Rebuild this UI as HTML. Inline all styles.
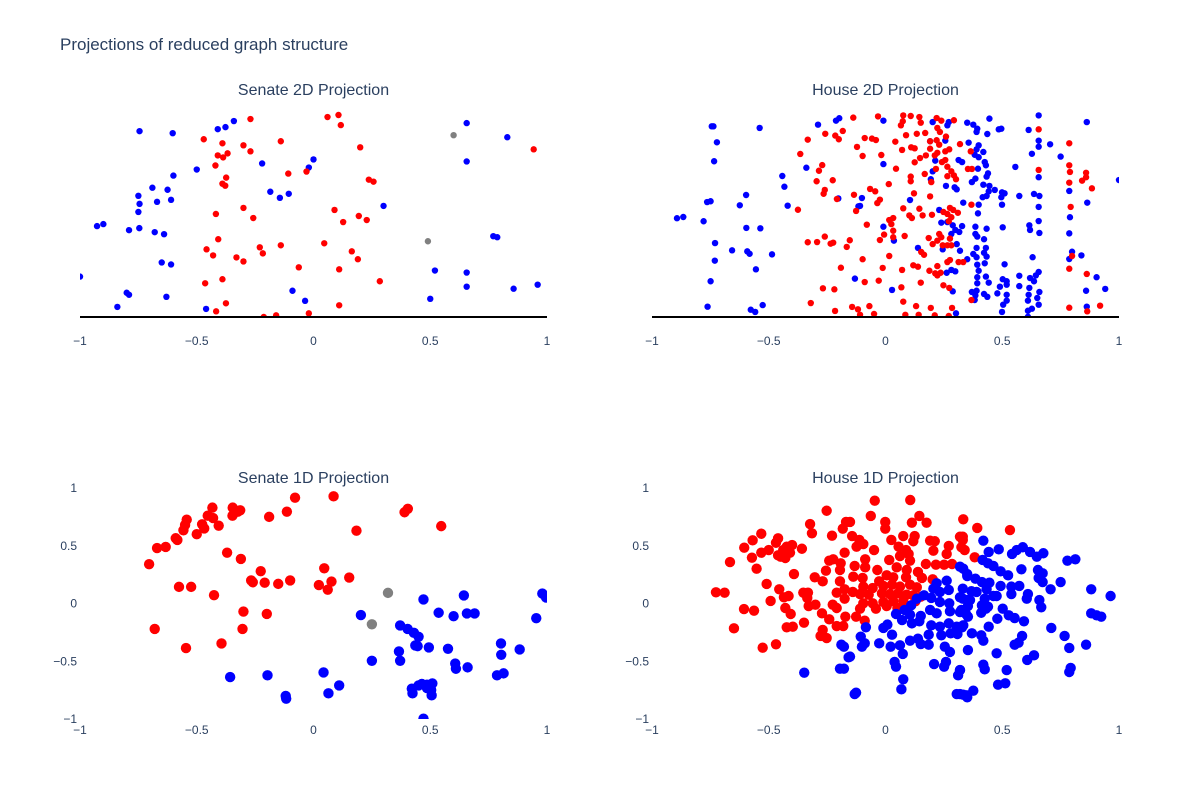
<!DOCTYPE html>
<html><head><meta charset="utf-8"><style>
body{margin:0;background:#fff;}
svg{display:block;font-family:"Liberation Sans",Arial,sans-serif;}
</style></head><body>
<svg id="chart" width="1200" height="800">
<rect width="1200" height="800" fill="#fff"/>
<text x="60" y="50" font-size="17" fill="#2a3f5f">Projections of reduced graph structure</text>
</svg>
<script>
// ---------- data ----------
const xTicks = [-1, -0.5, 0, 0.5, 1];
const yTicks1D = [1, 0.5, 0, -0.5, -1];
const panelTitles = ["Senate 2D Projection", "House 2D Projection", "Senate 1D Projection", "House 1D Projection"];

const s2dBlue = [[-0.745,0.92],[-0.603,0.91],[-0.41,0.93],[-0.377,0.94],[-0.341,0.97],[-0.22,0.76],[0.0,0.78],[-0.02,0.74],[-0.5,0.73],[-0.6,0.7],[-0.69,0.64],[-0.625,0.63],[-0.75,0.6],[-0.67,0.57],[-0.745,0.56],[-0.61,0.58],[-0.75,0.52],[-0.185,0.62],[-0.144,0.59],[-0.106,0.61],[0.3,0.55],[-0.927,0.45],[-0.9,0.46],[-0.79,0.43],[-0.746,0.44],[-0.68,0.42],[-0.64,0.41],[-0.65,0.27],[-0.61,0.26],[-1.0,0.2],[-0.8,0.12],[-0.79,0.11],[-0.63,0.1],[-0.84,0.05],[-0.46,0.04],[-0.09,0.13],[-0.036,0.08],[0.656,0.96],[0.83,0.89],[0.656,0.77],[0.77,0.4],[0.787,0.395],[0.52,0.23],[0.656,0.22],[0.656,0.15],[0.857,0.14],[0.96,0.16],[0.5,0.09]];
const s2dGray = [[0.6,0.9],[0.49,0.375]];
const s2dRed = [[-0.27,0.98],[0.06,0.99],[0.107,1.0],[0.117,0.95],[-0.47,0.88],[-0.39,0.86],[-0.14,0.87],[-0.3,0.85],[-0.27,0.82],[-0.41,0.8],[-0.387,0.79],[-0.368,0.81],[-0.42,0.75],[0.2,0.84],[0.943,0.83],[-0.108,0.71],[-0.03,0.72],[-0.374,0.69],[-0.39,0.66],[-0.378,0.65],[0.237,0.68],[0.257,0.67],[-0.418,0.51],[-0.3,0.54],[-0.258,0.49],[0.09,0.53],[0.127,0.47],[0.194,0.5],[0.228,0.48],[-0.408,0.385],[-0.458,0.335],[-0.43,0.305],[-0.23,0.345],[-0.217,0.315],[-0.14,0.355],[-0.33,0.295],[-0.3,0.275],[0.046,0.365],[0.164,0.325],[0.19,0.286],[-0.063,0.246],[0.11,0.236],[0.284,0.177],[-0.39,0.187],[-0.464,0.167],[-0.375,0.068],[-0.417,0.028],[0.11,0.058],[-0.213,0.0],[-0.16,0.008],[-0.02,0.018]];

const h2dBlue = [[-0.744,0.944],[-0.737,0.944],[-0.722,0.865],[-0.734,0.771],[-0.539,0.936],[-0.289,0.952],[-0.212,0.972],[-0.198,0.984],[-0.339,0.739],[-0.442,0.698],[-0.433,0.645],[-0.419,0.551],[-0.597,0.604],[-0.624,0.553],[-0.764,0.569],[-0.749,0.573],[-0.893,0.489],[-0.866,0.495],[-0.779,0.474],[-0.596,0.441],[-0.536,0.439],[-0.73,0.366],[-0.657,0.33],[-0.592,0.325],[-0.582,0.313],[-0.486,0.31],[-0.731,0.279],[-0.555,0.236],[-0.749,0.177],[-0.762,0.051],[-0.577,0.036],[-0.558,0.025],[-0.526,0.059],[-0.202,0.587],[-0.131,0.19],[-0.116,0.548],
[-0.009,0.972],[0.202,0.965],[0.271,0.965],[0.265,0.949],[0.35,0.962],[0.376,0.952],[0.393,0.932],[0.39,0.916],[0.445,0.982],[0.436,0.906],[0.191,0.87],[0.256,0.873],[0.356,0.863],[0.399,0.85],[0.39,0.83],[0.419,0.817],[0.382,0.803],[0.399,0.791],[0.313,0.777],[0.328,0.767],[0.425,0.767],[0.43,0.751],[-0.009,0.757],[0.213,0.774],[0.202,0.721],[0.396,0.734],[0.439,0.711],[0.433,0.695],[0.385,0.685],[0.37,0.668],[0.194,0.682],[0.259,0.649],[0.296,0.642],[0.305,0.632],[0.419,0.655],[0.445,0.649],[0.468,0.629],[0.442,0.622],[0.433,0.599],[0.416,0.593],[0.333,0.566],[0.399,0.556],[0.105,0.579],[-0.101,0.589],[-0.109,0.55],[0.23,0.53],[0.396,0.513],[0.239,0.467],[0.265,0.47],[0.288,0.454],[0.328,0.45],[-0.009,0.447],[0.385,0.447],[0.433,0.437],[0.385,0.411],[0.282,0.411],[0.299,0.431],[0.316,0.421],[0.393,0.398],[0.036,0.378],[0.422,0.385],[0.305,0.361],[0.139,0.342],[0.245,0.335],[0.39,0.342],[0.43,0.342],[0.319,0.328],[0.422,0.318],[0.376,0.312],[0.35,0.286],[0.39,0.296],[0.433,0.299],[0.425,0.266],[0.393,0.259],[0.282,0.233],[0.299,0.226],[0.262,0.219],[0.399,0.229],[0.393,0.197],[0.43,0.2],[0.442,0.17],[0.393,0.167],[0.37,0.124],[0.39,0.13],[0.385,0.107],[0.422,0.114],[0.436,0.1],[0.382,0.084],[0.028,0.134],[0.288,0.127],[0.479,0.117],[0.302,0.018],[0.485,0.929],
[0.656,0.998],[0.496,0.932],[0.613,0.926],[0.656,0.873],[0.656,0.843],[0.705,0.855],[0.627,0.808],[0.75,0.794],[0.862,0.965],[0.556,0.743],[0.656,0.692],[1.0,0.678],[0.499,0.617],[0.51,0.612],[0.496,0.593],[0.499,0.556],[0.573,0.599],[0.636,0.609],[0.659,0.599],[0.656,0.545],[0.787,0.624],[0.864,0.566],[0.656,0.475],[0.616,0.454],[0.619,0.431],[0.659,0.416],[0.79,0.494],[0.787,0.414],[0.502,0.444],[0.799,0.323],[0.787,0.287],[0.839,0.305],[0.63,0.296],[0.51,0.261],[0.502,0.187],[0.519,0.177],[0.519,0.16],[0.49,0.15],[0.573,0.204],[0.573,0.153],[0.619,0.193],[0.636,0.177],[0.656,0.223],[0.644,0.206],[0.659,0.124],[0.616,0.144],[0.613,0.11],[0.61,0.081],[0.65,0.094],[0.656,0.061],[0.519,0.11],[0.519,0.081],[0.504,0.061],[0.499,0.025],[0.627,0.041],[0.61,0.031],[0.61,0.001],[0.859,0.13],[0.904,0.197],[0.941,0.139],[0.862,0.051]];
const h2dRed = [[-0.138,0.987],[-0.258,0.907],[-0.183,0.921],[-0.215,0.898],[-0.2,0.88],[-0.333,0.878],[-0.122,0.842],[-0.365,0.807],[-0.271,0.752],[-0.285,0.724],[-0.295,0.672],[-0.226,0.677],[-0.26,0.629],[-0.265,0.61],[-0.208,0.584],[-0.135,0.605],[-0.126,0.525],[-0.375,0.531],[-0.333,0.37],[-0.293,0.371],[-0.26,0.398],[-0.235,0.363],[-0.224,0.368],[-0.153,0.38],[-0.166,0.347],[-0.191,0.244],[-0.268,0.142],[-0.219,0.137],[-0.32,0.069],[-0.216,0.03],[-0.143,0.05],[-0.118,0.038],
[-0.032,0.993],[0.076,0.998],[0.108,0.995],[0.145,0.99],[0.074,0.969],[0.066,0.949],[0.151,0.962],[0.219,0.985],[0.239,0.972],[0.293,0.974],[0.222,0.936],[0.233,0.916],[0.17,0.911],[0.134,0.907],[0.088,0.9],[0.259,0.893],[-0.089,0.886],[-0.058,0.883],[-0.041,0.876],[0.042,0.868],[0.219,0.875],[0.191,0.87],[0.23,0.853],[0.319,0.856],[0.11,0.84],[0.125,0.835],[0.071,0.827],[0.191,0.833],[0.273,0.83],[0.256,0.82],[0.222,0.813],[-0.018,0.802],[-0.098,0.797],[0.173,0.8],[0.211,0.8],[0.365,0.82],[0.148,0.787],[0.256,0.777],[0.242,0.767],[0.125,0.766],[0.37,0.733],[0.353,0.733],[0.265,0.744],[0.216,0.733],[0.045,0.734],[0.282,0.721],[0.293,0.701],[0.168,0.708],[0.265,0.697],[0.108,0.695],[0.108,0.672],[0.302,0.682],[0.196,0.668],[0.014,0.658],[-0.066,0.634],[-0.044,0.622],[0.122,0.612],[0.191,0.597],[-0.024,0.581],[-0.035,0.564],[0.368,0.556],[0.076,0.538],[0.145,0.536],[0.276,0.54],[0.29,0.53],[0.248,0.52],[0.265,0.51],[0.31,0.516],[0.102,0.503],[0.159,0.503],[0.199,0.506],[0.113,0.49],[0.033,0.49],[0.016,0.48],[0.282,0.494],[0.271,0.474],[0.025,0.46],[-0.08,0.457],[0.033,0.427],[-0.006,0.408],[0.082,0.401],[0.23,0.411],[0.239,0.395],[0.185,0.391],[-0.024,0.381],[0.033,0.395],[0.276,0.388],[0.222,0.378],[0.202,0.361],[0.245,0.355],[0.265,0.355],[0.282,0.355],[0.153,0.322],[0.165,0.308],[0.016,0.302],[-0.098,0.286],[0.276,0.282],[0.265,0.272],[0.313,0.272],[0.333,0.272],[0.222,0.252],[0.119,0.256],[0.139,0.249],[-0.012,0.243],[0.071,0.233],[0.188,0.229],[0.213,0.216],[0.236,0.219],[0.222,0.206],[-0.089,0.173],[-0.029,0.18],[0.151,0.17],[0.248,0.157],[0.068,0.147],[0.273,0.144],[0.076,0.076],[0.368,0.084],[-0.069,0.054],[0.131,0.054],[0.194,0.045],[0.285,0.045],[-0.049,0.015],[0.085,0.011],[0.142,0.011],[0.211,0.008],[0.271,0.005],[-0.109,0.011],
[0.656,0.929],[0.787,0.86],[0.656,0.728],[0.787,0.751],[0.79,0.718],[0.787,0.665],[0.859,0.714],[0.859,0.692],[0.842,0.675],[0.884,0.637],[0.793,0.545],[0.799,0.302],[0.787,0.239],[0.862,0.213],[0.787,0.046],[0.864,0.028],[0.919,0.056]];

const s1dRed = [[-0.704,0.34],[-0.67,0.48],[-0.633,0.49],[-0.59,0.565],[-0.583,0.55],[-0.557,0.634],[-0.55,0.68],[-0.543,0.726],[-0.5,0.6],[-0.477,0.686],[-0.468,0.65],[-0.453,0.76],[-0.433,0.83],[-0.43,0.74],[-0.406,0.674],[-0.347,0.76],[-0.346,0.83],[-0.314,0.807],[-0.324,0.795],[-0.19,0.75],[-0.114,0.795],[-0.079,0.916],[0.086,0.928],[0.39,0.79],[0.404,0.82],[0.547,0.67],[0.184,0.63],[-0.37,0.44],[-0.311,0.386],[-0.226,0.28],[-0.267,0.2],[-0.26,0.184],[-0.209,0.18],[-0.151,0.17],[-0.1,0.2],[0.046,0.305],[0.023,0.16],[0.077,0.19],[0.061,0.12],[0.153,0.225],[-0.576,0.144],[-0.524,0.144],[-0.426,0.072],[-0.3,-0.07],[-0.2,-0.09],[-0.304,-0.22],[-0.68,-0.22],[-0.546,-0.386],[-0.394,-0.346]];
const s1dGray = [[0.319,0.092],[0.25,-0.18]];
const s1dBlue = [[0.203,-0.1],[0.471,0.035],[0.644,0.07],[0.536,-0.08],[0.6,-0.11],[0.657,-0.086],[0.69,-0.086],[0.98,0.086],[0.996,0.052],[0.954,-0.127],[0.371,-0.19],[0.403,-0.22],[0.43,-0.254],[0.45,-0.288],[0.436,-0.363],[0.446,-0.369],[0.494,-0.38],[0.366,-0.415],[0.371,-0.496],[0.576,-0.392],[0.25,-0.496],[0.607,-0.52],[0.61,-0.565],[0.66,-0.553],[0.803,-0.346],[0.804,-0.444],[0.883,-0.398],[0.786,-0.622],[0.814,-0.605],[-0.357,-0.637],[-0.197,-0.622],[0.043,-0.597],[0.11,-0.709],[0.064,-0.778],[-0.119,-0.8],[-0.117,-0.824],[0.421,-0.738],[0.424,-0.778],[0.45,-0.709],[0.464,-0.697],[0.486,-0.703],[0.509,-0.692],[0.504,-0.749],[0.506,-0.795],[0.486,-0.732],[0.471,-0.997]];

const h1dRed = [[-0.666,0.359],[-0.726,0.097],[-0.689,0.094],[-0.649,-0.215],[-0.606,-0.048],[-0.563,-0.062],[-0.526,-0.383],[-0.469,-0.353],[-0.509,0.169],[-0.492,0.022],[-0.552,0.301],[-0.572,0.397],[-0.605,0.483],[-0.569,0.547],[-0.532,0.604],[-0.532,0.44],[-0.5,0.463],[-0.469,0.526],[-0.46,0.564],[-0.46,0.417],[-0.438,0.463],[-0.423,0.492],[-0.4,0.506],[-0.409,0.44],[-0.429,0.394],[-0.449,0.405],[-0.358,0.474],[-0.392,0.255],[-0.455,0.123],[-0.435,0.054],[-0.415,0.065],[-0.429,-0.039],[-0.406,-0.091],[-0.423,-0.206],[-0.397,-0.201],[-0.349,-0.166],[-0.352,0.094],[-0.332,0.094],[-0.335,0.048],[-0.329,-0.022],[-0.3,-0.01],[-0.303,0.227],[-0.269,0.192],[-0.255,0.284],[-0.241,0.371],[-0.224,0.383],[-0.192,0.348],[-0.195,0.29],[-0.195,0.192],[-0.209,0.094],[-0.175,0.123],[-0.175,0.042],[-0.226,-0.01],[-0.209,-0.039],[-0.272,-0.085],[-0.241,-0.137],[-0.209,-0.195],[-0.181,-0.195],[-0.172,-0.114],[-0.269,-0.229],[-0.278,-0.281],[-0.252,-0.299],[-0.175,0.44],[-0.252,0.803],[-0.323,0.688],[-0.315,0.608],[-0.229,0.587],[-0.183,0.648],[-0.169,0.706],
[-0.046,0.89],[0.106,0.896],[-0.063,0.758],[-0.001,0.706],[-0.001,0.648],[0.113,0.7],[0.145,0.758],[0.176,0.7],[-0.152,0.706],[0.076,0.584],[0.025,0.55],[0.125,0.584],[0.119,0.539],[0.191,0.544],[0.211,0.539],[0.205,0.457],[0.271,0.498],[0.262,0.429],[0.319,0.578],[0.325,0.487],[-0.143,0.584],[-0.112,0.55],[-0.124,0.492],[-0.095,0.515],[-0.049,0.463],[0.056,0.492],[0.088,0.463],[0.099,0.429],[0.062,0.411],[-0.087,0.383],[0.016,0.377],[0.105,0.371],[0.173,0.342],[0.216,0.336],[0.251,0.336],[0.285,0.342],[-0.132,0.325],[-0.087,0.313],[-0.035,0.29],[0.048,0.313],[0.091,0.29],[0.139,0.273],[-0.138,0.232],[-0.098,0.221],[0.005,0.244],[0.033,0.227],[0.088,0.227],[0.156,0.221],[0.202,0.209],[-0.027,0.192],[-0.095,0.146],[-0.055,0.134],[-0.009,0.152],[0.028,0.163],[0.062,0.146],[0.105,0.163],[0.134,0.14],[-0.14,0.1],[-0.109,0.082],[-0.072,0.076],[-0.015,0.088],[0.019,0.082],[0.054,0.088],[0.091,0.076],[0.119,0.071],[-0.095,0.002],[-0.055,0.002],[-0.009,0.013],[0.033,0.019],[0.076,0.019],[0.128,0.019],[0.151,0.059],[-0.109,-0.045],[-0.041,-0.045],[0.005,-0.022],[0.051,-0.039],[-0.126,-0.114],[-0.089,-0.149],
[0.333,0.729],[0.393,0.654],[0.533,0.636],[0.331,0.578],[0.331,0.55],[0.339,0.463],[0.382,0.4]];
const h1dBlue = [[-0.189,-0.357],[-0.178,-0.374],[-0.158,-0.466],[-0.195,-0.564],[-0.178,-0.564],[-0.348,-0.599],
[0.333,0.301],[0.35,0.238],[0.262,0.197],[0.219,0.175],[0.271,0.117],[0.233,0.1],[0.205,0.128],[0.319,0.054],[0.35,0.03],[0.165,0.071],[0.134,0.042],[0.196,0.048],[0.233,0.013],[0.273,0.002],[0.11,-0.016],[0.082,-0.056],[0.045,-0.091],[0.105,-0.097],[0.151,-0.108],[0.191,-0.056],[0.219,-0.085],[0.276,-0.068],[0.319,-0.074],[0.345,-0.091],[0.071,-0.143],[0.113,-0.172],[0.145,-0.154],[0.196,-0.189],[0.233,-0.201],[0.271,-0.172],[0.305,-0.201],[0.333,-0.189],[0.008,-0.183],[-0.009,-0.212],[-0.084,-0.206],[-0.106,-0.287],[-0.089,-0.345],[0.028,-0.27],[0.105,-0.322],[0.139,-0.305],[0.185,-0.27],[0.239,-0.275],[0.279,-0.258],[0.308,-0.264],[-0.027,-0.345],[0.022,-0.374],[0.062,-0.362],[0.074,-0.437],[0.151,-0.351],[0.185,-0.357],[0.254,-0.374],[0.276,-0.42],[-0.152,-0.46],[-0.101,-0.374],[0.039,-0.506],[0.045,-0.547],[0.208,-0.524],[0.251,-0.547],[0.259,-0.506],[0.319,-0.576],[0.311,-0.622],[0.076,-0.656],[0.068,-0.743],[-0.126,-0.772],[-0.132,-0.784],[0.305,-0.784],[0.333,-0.79],[0.35,-0.812],
[0.419,0.544],[0.442,0.446],[0.485,0.469],[0.542,0.429],[0.562,0.463],[0.588,0.487],[0.619,0.446],[0.648,0.405],[0.676,0.435],[0.779,0.371],[0.813,0.383],[0.416,0.377],[0.439,0.348],[0.462,0.325],[0.493,0.279],[0.525,0.244],[0.582,0.296],[0.653,0.29],[0.673,0.261],[0.656,0.221],[0.673,0.186],[0.75,0.186],[0.881,0.123],[0.964,0.065],[0.319,0.319],[0.35,0.255],[0.385,0.215],[0.413,0.186],[0.445,0.18],[0.493,0.152],[0.539,0.146],[0.573,0.152],[0.707,0.123],[0.331,0.128],[0.368,0.106],[0.39,0.1],[0.433,0.123],[0.462,0.065],[0.476,0.065],[0.539,0.082],[0.61,0.082],[0.605,0.042],[0.659,0.03],[0.331,0.042],[0.362,0.03],[0.425,0.042],[0.353,-0.022],[0.413,-0.016],[0.439,-0.028],[0.667,-0.033],[0.502,-0.045],[0.325,-0.056],[0.353,-0.114],[0.41,-0.08],[0.43,-0.045],[0.479,-0.132],[0.528,-0.102],[0.553,-0.126],[0.593,-0.154],[0.328,-0.206],[0.442,-0.201],[0.37,-0.258],[0.41,-0.275],[0.419,-0.322],[0.585,-0.281],[0.553,-0.357],[0.57,-0.339],[0.71,-0.212],[0.767,-0.281],[0.787,-0.385],[0.859,-0.357],[0.881,-0.085],[0.904,-0.102],[0.924,-0.114],[0.353,-0.403],[0.476,-0.431],[0.607,-0.489],[0.636,-0.449],[0.319,-0.576],[0.419,-0.53],[0.425,-0.57],[0.519,-0.576],[0.793,-0.558],[0.787,-0.593],[0.482,-0.703],[0.513,-0.691],[0.319,-0.784],[0.348,-0.795],[0.376,-0.755]];

// ---------- drawing ----------
const NS = "http://www.w3.org/2000/svg";
const svg = document.getElementById("chart");
function mk(tag, attrs, parent){ const e=document.createElementNS(NS,tag); for(const k in attrs) e.setAttribute(k,attrs[k]); (parent||svg).appendChild(e); return e; }
function fmt(v){ return (v<0?"\u2212":"")+Math.abs(v); }

const panels = [
  {x0:80,x1:547,top:115,bot:317,kind:"2d",title:panelTitles[0],ty:95,name:"senate-2d"},
  {x0:652,x1:1119,top:115,bot:317,kind:"2d",title:panelTitles[1],ty:95,name:"house-2d"},
  {x0:80,x1:547,top:488,bot:719,kind:"1d",title:panelTitles[2],ty:483,name:"senate-1d"},
  {x0:652,x1:1119,top:488,bot:719,kind:"1d",title:panelTitles[3],ty:483,name:"house-1d"}
];
const series = [
  [[s2dBlue,"#0000ff"],[s2dGray,"#808080"],[s2dRed,"#ff0000"]],
  [[h2dBlue,"#0000ff"],[h2dRed,"#ff0000"]],
  [[s1dRed,"#ff0000"],[s1dGray,"#808080"],[s1dBlue,"#0000ff"]],
  [[h1dRed,"#ff0000"],[h1dBlue,"#0000ff"]]
];
const seriesNames = [["blue","gray","red"],["blue","red"],["red","gray","blue"],["red","blue"]];

panels.forEach((p, i) => {
  const xs = v => p.x0 + (v + 1) / 2 * (p.x1 - p.x0);
  const ys = p.kind === "2d" ? (v => p.bot - v * (p.bot - p.top)) : (v => (p.top + p.bot) / 2 - v * (p.bot - p.top) / 2);
  const g = mk("g", {});
  
  
  const t = mk("text", {x:(p.x0+p.x1)/2, y:p.ty, "font-size":16, fill:"#2a3f5f", "text-anchor":"middle"}, g);
  t.textContent = p.title;
  
  
  // x tick labels
  xTicks.forEach(v => {
    const tl = mk("text", {x:xs(v), y:p.bot+(p.kind==="2d"?28:15), "font-size":12, fill:"#2a3f5f", "text-anchor":"middle"}, g);
    tl.textContent = fmt(v);
    
    
  });
  if (p.kind === "1d") {
    yTicks1D.forEach(v => {
      const tl = mk("text", {x:p.x0-3, y:ys(v)+4, "font-size":12, fill:"#2a3f5f", "text-anchor":"end"}, g);
      tl.textContent = fmt(v);
      
      
    });
  }
  const cid = "clip" + i;
  const cp = mk("clipPath", {id:cid}, g);
  mk("rect", {x:p.x0, y:p.top-12, width:p.x1-p.x0, height:(p.bot-p.top)+12+(p.kind==="2d"?0:0)}, cp);
  const pg = mk("g", {"clip-path":"url(#"+cid+")"}, g);
  const r = p.kind === "2d" ? 3.2 : 5.2;
  series[i].forEach(([pts, col], si) => {
    const sg = mk("g", {fill:col}, pg);
    
    
    pts.forEach(pt => {
      const c = mk("circle", {cx:xs(pt[0]), cy:ys(pt[1]), r:r}, sg);
      
      
    });
  });
  if (p.kind === "2d") {
    const ln = mk("line", {x1:p.x0, x2:p.x1, y1:p.bot, y2:p.bot, stroke:"#000", "stroke-width":2}, g);
    
    
  }
});
</script>
</body></html>
